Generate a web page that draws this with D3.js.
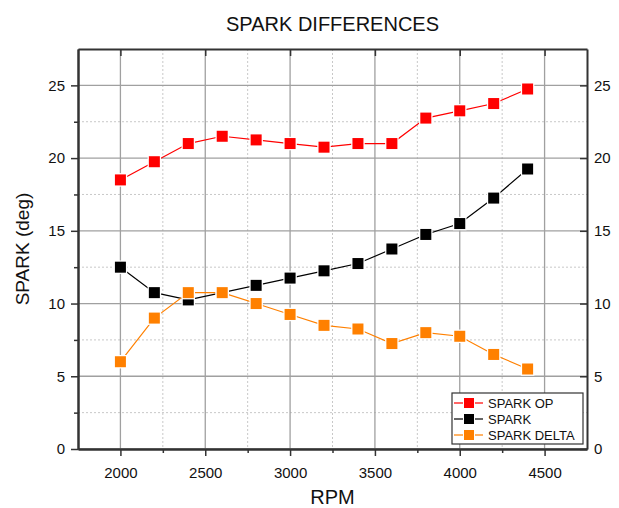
<!DOCTYPE html>
<html>
<head>
<meta charset="utf-8">
<script src="https://cdn.jsdelivr.net/npm/d3@7"></script>
<style>
  body { margin: 0; background: #fff; }
  text { font-family: "Liberation Sans", Arial, sans-serif; }
</style>
</head>
<body>
<div id="chart"></div>
<script>
// data
var rpm = [2000, 2200, 2400, 2600, 2800, 3000, 3200, 3400, 3600, 3800, 4000, 4200, 4400];
var sparkOp = [18.5, 19.75, 21, 21.5, 21.25, 21, 20.75, 21, 21, 22.75, 23.25, 23.75, 24.75];
var spark = [12.5, 10.75, 10.25, 10.75, 11.25, 11.75, 12.25, 12.75, 13.75, 14.75, 15.5, 17.25, 19.25];
var sparkDelta = [6, 9, 10.75, 10.75, 10, 9.25, 8.5, 8.25, 7.25, 8, 7.75, 6.5, 5.5];
var seriesNames = ["SPARK OP", "SPARK", "SPARK DELTA"];
var seriesColors = ["#ff0000", "#000000", "#ff8000"];
var xTicks = [2000, 2500, 3000, 3500, 4000, 4500];
var yTicks = [0, 5, 10, 15, 20, 25];

var W = 619, H = 508;
var margin = {top: 49, right: 32, bottom: 59, left: 78};
var width = W - margin.left - margin.right,
    height = H - margin.top - margin.bottom;

var x = d3.scaleLinear().domain([1750, 4750]).range([0, width]);
var y = d3.scaleLinear().domain([0, 27.5]).range([height, 0]);

var svg = d3.select("#chart").append("svg")
    .attr("width", W).attr("height", H);
var g = svg.append("g")
    .attr("transform", "translate(" + margin.left + "," + margin.top + ")");

// minor grid (dotted)
var xMinor = d3.range(2250, 4750, 500);
var yMinor = d3.range(2.5, 27.5, 5);
g.selectAll(".gxm").data(xMinor).enter().append("line")
    .attr("x1", d => x(d)).attr("x2", d => x(d))
    .attr("y1", 0).attr("y2", height)
    .attr("stroke", "#c8c8c8").attr("stroke-dasharray", "2,2");
g.selectAll(".gym").data(yMinor).enter().append("line")
    .attr("y1", d => y(d)).attr("y2", d => y(d))
    .attr("x1", 0).attr("x2", width)
    .attr("stroke", "#c8c8c8").attr("stroke-dasharray", "2,2");

// major grid
g.selectAll(".gx").data(xTicks).enter().append("line")
    .attr("x1", d => x(d)).attr("x2", d => x(d))
    .attr("y1", 0).attr("y2", height)
    .attr("stroke", "#a0a0a0").attr("stroke-width", 1.3);
g.selectAll(".gy").data(yTicks).enter().append("line")
    .attr("y1", d => y(d)).attr("y2", d => y(d))
    .attr("x1", 0).attr("x2", width)
    .attr("stroke", "#a0a0a0").attr("stroke-width", 1.3);

// axes
function styleAxis(sel) {
  sel.selectAll("path").attr("stroke", "#333").attr("stroke-width", 2);
  sel.selectAll("line").attr("stroke", "#333").attr("stroke-width", 1.5);
  sel.selectAll("text").style("font-size", "15px").attr("fill", "#111");
}
var xAxis = g.append("g").attr("transform", "translate(0," + height + ")")
    .call(d3.axisBottom(x).tickValues(xTicks).tickFormat(d3.format("d")).tickSize(7).tickPadding(11).tickSizeOuter(0));
styleAxis(xAxis);
var xAxisMinor = g.append("g").attr("transform", "translate(0," + height + ")")
    .call(d3.axisBottom(x).tickValues(xMinor).tickFormat("").tickSize(4).tickSizeOuter(0));
styleAxis(xAxisMinor);

var yAxis = g.append("g")
    .call(d3.axisLeft(y).tickValues(yTicks).tickSize(7).tickPadding(6).tickSizeOuter(0));
styleAxis(yAxis);
var yAxisMinor = g.append("g")
    .call(d3.axisLeft(y).tickValues(yMinor).tickFormat("").tickSize(4).tickSizeOuter(0));
styleAxis(yAxisMinor);

var yAxisR = g.append("g").attr("transform", "translate(" + width + ",0)")
    .call(d3.axisRight(y).tickValues(yTicks).tickSize(-7).tickPadding(7).tickSizeOuter(0));
styleAxis(yAxisR);
var xAxisTop = g.append("g")
    .call(d3.axisTop(x).tickValues(xTicks).tickFormat("").tickSize(-7).tickSizeOuter(0));
styleAxis(xAxisTop);

// series
var allSeries = [sparkOp, spark, sparkDelta];
var line = d3.line().x((d, i) => x(rpm[i])).y(d => y(d));

allSeries.forEach(function(vals, k) {
  g.append("path").datum(vals)
    .attr("d", line)
    .attr("fill", "none")
    .attr("stroke", seriesColors[k])
    .attr("stroke-width", 1.2);
});
allSeries.forEach(function(vals, k) {
  g.selectAll(".m" + k).data(vals).enter().append("rect")
    .attr("x", (d, i) => x(rpm[i]) - 5.5)
    .attr("y", d => y(d) - 5.5)
    .attr("width", 11).attr("height", 11)
    .attr("fill", seriesColors[k])
    .attr("stroke", "#fff").attr("stroke-width", 2.5)
    .attr("paint-order", "stroke");
});

// legend
var lg = svg.append("g").attr("transform", "translate(452,393)");
lg.append("rect").attr("width", 131).attr("height", 51)
  .attr("fill", "#fff").attr("stroke", "#333").attr("stroke-width", 1.2);
seriesNames.forEach(function(name, k) {
  var yy = 10 + k * 16;
  lg.append("line").attr("x1", 2).attr("x2", 31).attr("y1", yy).attr("y2", yy)
    .attr("stroke", seriesColors[k]).attr("stroke-width", 1.2);
  lg.append("rect").attr("x", 12).attr("y", yy - 5).attr("width", 10).attr("height", 10)
    .attr("fill", seriesColors[k]).attr("stroke", "#fff").attr("stroke-width", 2)
    .attr("paint-order", "stroke");
  lg.append("text").attr("x", 36).attr("y", yy + 4.5)
    .style("font-size", "13px").attr("fill", "#111").text(name);
});

// titles
svg.append("text").attr("x", margin.left + width / 2).attr("y", 31)
  .attr("text-anchor", "middle").style("font-size", "20px").attr("fill", "#111")
  .text("SPARK DIFFERENCES");
svg.append("text").attr("x", margin.left + width / 2).attr("y", 504)
  .attr("text-anchor", "middle").style("font-size", "20px").attr("fill", "#111")
  .text("RPM");
svg.append("text")
  .attr("transform", "translate(29," + (margin.top + height / 2) + ") rotate(-90)")
  .attr("text-anchor", "middle").style("font-size", "19px").attr("fill", "#111")
  .text("SPARK (deg)");
</script>
</body>
</html>
